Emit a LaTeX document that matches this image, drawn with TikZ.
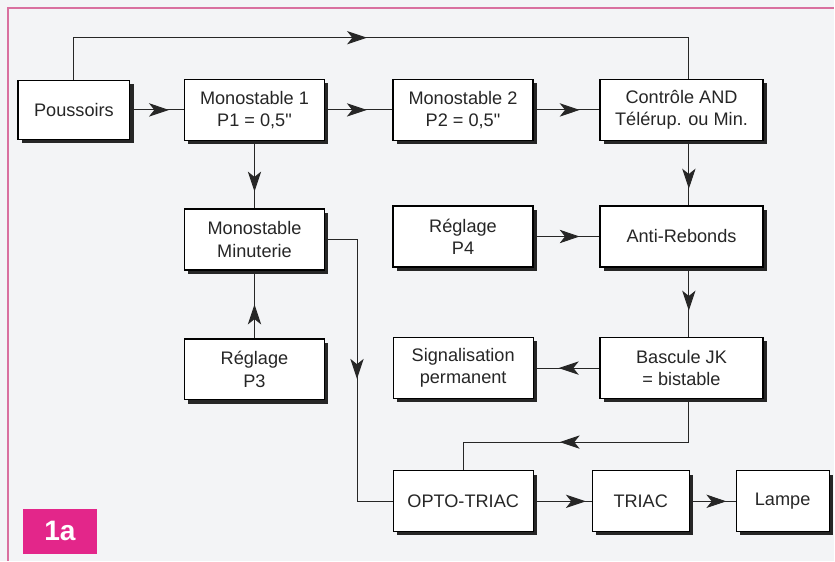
\documentclass[tikz,border=0pt]{standalone}
\usepackage{fontspec}
\setmainfont{Liberation Sans}[Ligatures=TeXOff]
\usepackage{xcolor}
\usepackage{tikz}
\usetikzlibrary{arrows.meta,positioning,calc,shadows,decorations.markings}

\definecolor{papier}{HTML}{F3F4F6}
\definecolor{kader}{HTML}{D9709F}
\definecolor{magenta1a}{HTML}{E3268A}

\begin{document}
\begin{tikzpicture}[node distance=3cm,
  blok/.style={draw=black, line width=1pt, rectangle, fill=white, align=center,
    text=black!85, minimum height=1.83cm, minimum width=4.2cm, inner sep=0pt,
    font=\fontsize{15.5}{19}\selectfont,
    drop shadow={shadow xshift=0.11cm, shadow yshift=-0.11cm, fill=black!85, opacity=1}},
  wire/.style={draw=black!85, line width=0.8pt},
  pijl/.style={postaction={decorate}, decoration={markings,
    mark=at position #1 with {\arrow{Stealth[length=0.6cm, width=0.4cm, inset=0.16cm]}}}}]
% achtergrond en kader
\fill[papier] (-2.22,3.3) rectangle (22.83,-13.53);
\draw[kader, line width=1pt] (-1.98,-13.53) -- (-1.98,3.06) -- (22.83,3.06);
% blokken
\node[blok, minimum width=3.36cm, minimum height=1.78cm] (pous) {Poussoirs};
\node[blok, right of=pous, node distance=5.42cm] (mono1) {Monostable 1\\P1 = 0,5"};
\node[blok, right of=mono1, node distance=6.26cm] (mono2) {Monostable 2\\P2 = 0,5"};
\node[blok, right of=mono2, node distance=6.56cm, minimum width=4.89cm] (ctrl) {Contrôle AND\\Télérup. ou Min.};
\node[blok, below of=mono1, node distance=3.89cm] (minut) {Monostable\\Minuterie};
\node[blok, below of=minut, node distance=3.9cm] (p3) {Réglage\\P3};
\node[blok, below of=mono2, node distance=3.8cm] (p4) {Réglage\\P4};
\node[blok, below of=ctrl, node distance=3.8cm, minimum width=4.89cm] (anti) {Anti-Rebonds};
\node[blok, below of=anti, node distance=3.95cm, minimum width=4.89cm] (basc) {Bascule JK\\= bistable};
\node[blok, left of=basc, node distance=6.555cm] (signal) {Signalisation\\permanent};
\node[blok, below of=signal, node distance=4.0cm] (opto) {OPTO-TRIAC};
\node[blok, right of=opto, node distance=5.33cm, minimum width=2.91cm] (triac) {TRIAC};
\node[blok, right of=triac, node distance=4.26cm, minimum width=2.79cm] (lamp) {Lampe};
\node[fill=magenta1a, text=white, font=\fontsize{24}{24}\bfseries\selectfont,
  minimum width=2.22cm, minimum height=1.35cm] (fig) at (-0.42,-12.645) {1a};
% verbindingen
\draw[wire, pijl=0.48] (pous.north) -- ++(0,1.26) -| ([xshift=0.22cm]ctrl.north);
\draw[wire, pijl=0.72] (pous) -- (mono1);
\draw[wire, pijl=0.62] (mono1) -- (mono2);
\draw[wire, pijl=0.7] (mono2) -- (ctrl);
\draw[wire, pijl=0.75] (mono1) -- (minut);
\draw[wire, pijl=0.5] (p3) -- (minut);
\draw[wire, pijl=0.7] (p4) -- (anti);
\draw[wire, pijl=0.74] ([xshift=0.22cm]ctrl.south) -- ([xshift=0.22cm]anti.north);
\draw[wire, pijl=0.62] ([xshift=0.22cm]anti.south) -- ([xshift=0.22cm]basc.north);
\draw[wire, pijl=0.62] (basc) -- (signal);
\draw[wire, pijl=0.52] (minut.east) -- ++(0.96,0) |- (opto.west);
\draw[wire, pijl=0.58] ([xshift=0.22cm]basc.south) -- ++(0,-1.29) -| (opto.north);
\draw[wire, pijl=0.9] (opto) -- (triac);
\draw[wire, pijl=0.8] (triac) -- (lamp);
\end{tikzpicture}
\end{document}
